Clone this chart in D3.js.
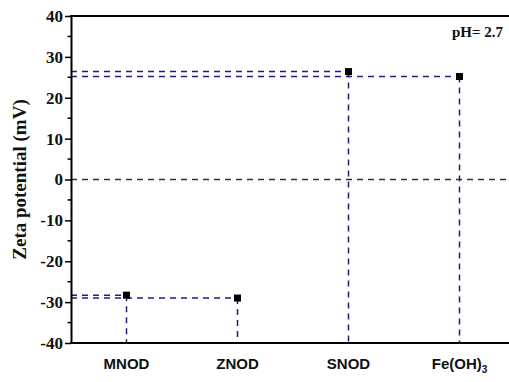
<!DOCTYPE html>
<html><head><meta charset="utf-8">
<script src="https://cdn.jsdelivr.net/npm/d3@7"></script>
<style>body{margin:0;background:#fff}svg{display:block}</style>
</head><body>
<svg id="c" width="509" height="382"></svg>
<script>
const categories = ["MNOD", "ZNOD", "SNOD", "Fe(OH)3"];
const zeta = [-28.3, -29.0, 26.4, 25.2];
const yTicks = [-40, -30, -20, -10, 0, 10, 20, 30, 40];
const phLabel = "pH= 2.7";

const svg = d3.select("#c");
const x = d3.scaleLinear().domain([0.5, 4.5]).range([71, 515]);
const y = d3.scaleLinear().domain([-40, 40]).range([343, 16]);
const navy = "#1c1f80";
const dash = "6,5";

// zero line
svg.append("line").attr("x1", x(0.5)).attr("x2", 509).attr("y1", y(0)).attr("y2", y(0))
  .attr("stroke", "#333").attr("stroke-width", 1.5).attr("stroke-dasharray", dash);

// drop lines
const g = svg.append("g");
zeta.forEach((v, i) => {
  g.append("line").attr("x1", x(0.5)).attr("x2", x(i + 1)).attr("y1", y(v)).attr("y2", y(v))
    .attr("stroke", navy).attr("stroke-width", 1.5).attr("stroke-dasharray", dash);
  g.append("line").attr("x1", x(i + 1)).attr("x2", x(i + 1)).attr("y1", y(v)).attr("y2", y(-40))
    .attr("stroke", navy).attr("stroke-width", 1.5).attr("stroke-dasharray", dash);
});
g.selectAll("rect").data(zeta).join("rect")
  .attr("x", (d, i) => x(i + 1) - 3.5).attr("y", d => y(d) - 3.5)
  .attr("width", 7).attr("height", 7).attr("fill", "#000");

// axes
const yAxis = d3.axisLeft(y).tickValues(yTicks).tickSize(6).tickSizeOuter(0).tickPadding(2)
  .tickFormat(d => String(d));
const ya = svg.append("g").attr("transform", `translate(${x(0.5)},0)`).call(yAxis);
ya.select(".domain").attr("stroke-width", 2);
ya.selectAll(".tick line").attr("stroke-width", 1.5);
ya.selectAll("text").attr("font-family", "Liberation Serif, Times New Roman, serif")
  .attr("font-weight", "bold").attr("font-size", 17).attr("fill", "#111");
const minor = d3.range(-35, 40, 10);
svg.append("g").selectAll("line").data(minor).join("line")
  .attr("x1", x(0.5) - 3.5).attr("x2", x(0.5)).attr("y1", d => y(d)).attr("y2", d => y(d))
  .attr("stroke", "#000").attr("stroke-width", 1.5);

// bottom and top frame
svg.append("line").attr("x1", x(0.5) - 1).attr("x2", 509).attr("y1", y(-40)).attr("y2", y(-40))
  .attr("stroke", "#000").attr("stroke-width", 2);
svg.append("line").attr("x1", x(0.5) - 1).attr("x2", 509).attr("y1", y(40)).attr("y2", y(40))
  .attr("stroke", "#000").attr("stroke-width", 2);

// category labels
const xl = svg.append("g").attr("font-family", "Liberation Sans, Arial, sans-serif")
  .attr("font-weight", "bold").attr("font-size", 15).attr("fill", "#111");
categories.forEach((c, i) => {
  const t = xl.append("text").attr("x", x(i + 1)).attr("y", 369).attr("text-anchor", "middle");
  const m = c.match(/^(.*?)(\d+)$/);
  if (m && c.startsWith("Fe")) {
    t.append("tspan").text(m[1]);
    t.append("tspan").text(m[2]).attr("font-size", 10).attr("dy", 4);
  } else t.text(c);
});

// y title
svg.append("text").attr("transform", `translate(26,${y(0)}) rotate(-90)`)
  .attr("text-anchor", "middle").attr("font-family", "Liberation Serif, Times New Roman, serif")
  .attr("font-weight", "bold").attr("font-size", 19).attr("fill", "#111")
  .text("Zeta potential (mV)");

svg.append("text").attr("x", 503).attr("y", 37).attr("text-anchor", "end")
  .attr("font-family", "Liberation Serif, Times New Roman, serif")
  .attr("font-weight", "bold").attr("font-size", 15).attr("fill", "#111").text(phLabel);
</script>
</body></html>
